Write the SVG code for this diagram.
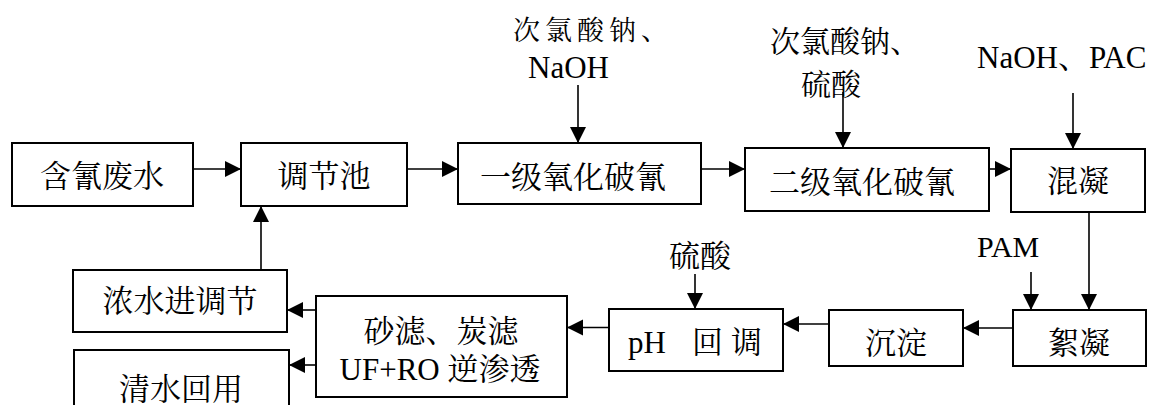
<svg xmlns="http://www.w3.org/2000/svg" width="1152" height="405" viewBox="0 0 1152 405">
  <style>
    .box { fill: #ffffff; stroke: #000000; stroke-width: 2; }
    .lbl { font-family: "Liberation Serif", "Times New Roman", "Noto Serif CJK SC", "Noto Sans CJK SC", serif; font-size: 31px; fill: #000000; }
    .mid { text-anchor: middle; }
    .wire { fill: none; stroke: #000000; stroke-width: 1.6; marker-end: url(#arrow); }
  </style>
  <defs>
    <marker id="arrow" markerUnits="userSpaceOnUse" markerWidth="17" markerHeight="17" refX="16" refY="8" orient="auto">
      <path d="M0,0 L16,8 L0,16 Z" fill="#000000"/>
    </marker>
  </defs>
  <rect width="1152" height="405" fill="#ffffff"/>

  <!-- connectors -->
  <g id="connectors">
    <line class="wire" x1="193" y1="169" x2="241" y2="169"/>
    <line class="wire" x1="407" y1="169" x2="458" y2="169"/>
    <line class="wire" x1="701" y1="169" x2="745" y2="169"/>
    <line class="wire" x1="989" y1="169" x2="1011" y2="169"/>
    <line class="wire" x1="578" y1="85" x2="578" y2="143"/>
    <line class="wire" x1="843" y1="92" x2="843" y2="148"/>
    <line class="wire" x1="1073" y1="93" x2="1073" y2="149"/>
    <line class="wire" x1="1089" y1="212" x2="1089" y2="310"/>
    <line class="wire" x1="1031" y1="272" x2="1031" y2="310"/>
    <line class="wire" x1="1013" y1="328" x2="963" y2="328"/>
    <line class="wire" x1="829" y1="324" x2="783" y2="324"/>
    <line class="wire" x1="695" y1="274" x2="695" y2="309"/>
    <line class="wire" x1="609" y1="327.5" x2="567" y2="327.5"/>
    <line class="wire" x1="316" y1="310" x2="287" y2="310"/>
    <line class="wire" x1="316" y1="365" x2="289" y2="365"/>
    <line class="wire" x1="261" y1="277" x2="261" y2="206"/>
  </g>

  <!-- dosing labels -->
  <g id="dose-1">
    <text class="lbl" x="513" y="40" style="font-size:27px; letter-spacing:5px">次氯酸钠、</text>
    <text class="lbl" x="528" y="78">NaOH</text>
  </g>
  <g id="dose-2">
    <text class="lbl" x="770" y="52" style="font-size:30px">次氯酸钠、</text>
    <text class="lbl" x="801" y="95" style="font-size:30px">硫酸</text>
  </g>
  <g id="dose-3">
    <text class="lbl" x="977" y="68">NaOH、PAC</text>
  </g>
  <g id="dose-4">
    <text class="lbl" x="977" y="257" style="font-size:30px">PAM</text>
  </g>
  <g id="dose-5">
    <text class="lbl" x="669" y="267">硫酸</text>
  </g>

  <!-- process units -->
  <g id="n-raw">
    <rect class="box" x="12" y="143" width="181" height="63"/>
    <text class="lbl mid" x="102" y="187">含氰废水</text>
  </g>
  <g id="n-equalize">
    <rect class="box" x="241" y="143" width="166" height="63"/>
    <text class="lbl mid" x="324" y="187">调节池</text>
  </g>
  <g id="n-ox1">
    <rect class="box" x="458" y="143" width="243" height="61"/>
    <text class="lbl mid" x="573" y="188">一级氧化破氰</text>
  </g>
  <g id="n-ox2">
    <rect class="box" x="745" y="148" width="244" height="63"/>
    <text class="lbl mid" x="862" y="193">二级氧化破氰</text>
  </g>
  <g id="n-coag">
    <rect class="box" x="1011" y="149" width="134" height="63"/>
    <text class="lbl mid" x="1078" y="192">混凝</text>
  </g>
  <g id="n-floc">
    <rect class="box" x="1013" y="310" width="133" height="56"/>
    <text class="lbl mid" x="1079" y="354">絮凝</text>
  </g>
  <g id="n-settle">
    <rect class="box" x="829" y="310" width="134" height="56"/>
    <text class="lbl mid" x="896" y="354">沉淀</text>
  </g>
  <g id="n-ph">
    <rect class="box" x="609" y="309" width="174" height="62"/>
    <text class="lbl" y="353"><tspan x="628">pH</tspan><tspan x="692">回</tspan><tspan x="731">调</tspan></text>
  </g>
  <g id="n-filter">
    <rect class="box" x="316" y="296" width="251" height="101"/>
    <text class="lbl mid" x="441" y="342">砂滤、炭滤</text>
    <text class="lbl mid" x="440" y="380">UF+RO 逆渗透</text>
  </g>
  <g id="n-brine">
    <rect class="box" x="73" y="270" width="214" height="62"/>
    <text class="lbl mid" x="180" y="312">浓水进调节</text>
  </g>
  <g id="n-reuse">
    <rect class="box" x="74" y="350" width="215" height="70"/>
    <text class="lbl mid" x="181" y="400">清水回用</text>
  </g>
</svg>
